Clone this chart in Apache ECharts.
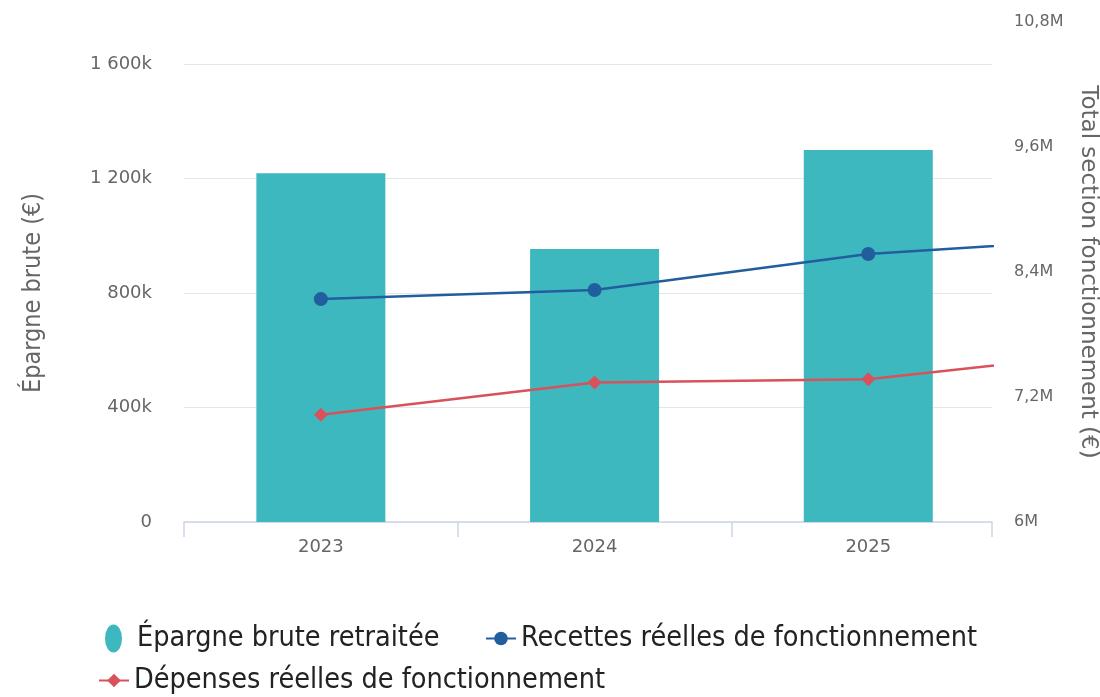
<!DOCTYPE html>
<html>
<head>
<meta charset="utf-8">
<script src="https://cdn.jsdelivr.net/npm/echarts@6/dist/echarts.min.js"></script>
<style>
    html, body { margin: 0; padding: 0; background: #fff; }
    #chart { width: 1100px; height: 697px; }
</style>
</head>
<body>
<div id="chart"></div>
<script>
// years shown on the x axis
const years = ['2023', '2024', '2025'];
// épargne brute retraitée (left axis, €)
const epargne = [1218000, 954000, 1300000];
// recettes / dépenses (right axis, €) - 4th point lies past the cut plot edge
const recettes = [8140000, 8227000, 8573000, 8740000];
const depenses = [7030000, 7340000, 7370000, 7660000];
const leftTicks = [0, 400000, 800000, 1200000, 1600000];
const rightTicks = [6000000, 7200000, 8400000, 9600000, 10800000];

const labelFont = 'DejaVu Sans';
const condFont = '"DejaVu Sans Condensed", "Liberation Sans Narrow", "DejaVu Sans"';

let myChart = echarts.init(document.getElementById('chart'));

// plot is cut on the right: 3rd category ends slightly outside the axis
const xMax = 2.452;

let legendText = { color: '#222', fontFamily: condFont, fontSize: 28.5 };

let opt = {
    backgroundColor: '#fff',
    animation: false,
    grid: {
        left: 184,
        right: 108,
        top: 22,
        bottom: 175,
        outerBoundsMode: 'none'
    },
    xAxis: {
        type: 'value',
        min: -0.5,
        max: xMax,
        axisLine: { lineStyle: { color: '#ccd6eb', width: 1.5 } },
        axisTick: {
            show: true,
            length: 15,
            lineStyle: { color: '#ccd6eb', width: 1.5 },
            customValues: [-0.5, 0.5, 1.5, xMax]
        },
        axisLabel: {
            customValues: years.map((y, i) => i),
            formatter: (v) => years[Math.round(v)] || '',
            color: '#666',
            fontFamily: labelFont,
            fontSize: 18,
            margin: 16
        },
        splitLine: { show: false }
    },
    yAxis: [
        {
            type: 'value',
            min: leftTicks[0],
            max: 1746725, // so that 1 600k sits at the top gridline
            interval: 400000,
            name: 'Épargne brute (€)',
            nameLocation: 'middle',
            nameRotate: 90,
            nameGap: 138,
            nameTextStyle: {
                color: '#666',
                fontFamily: condFont,
                fontSize: 25,
                padding: [0, 42, 0, 0]
            },
            axisLine: { show: false },
            axisTick: { show: false },
            axisLabel: {
                showMaxLabel: false,
                color: '#666',
                fontFamily: labelFont,
                fontSize: 18,
                margin: 32,
                formatter: (v) => {
                    if (v === 0) return '0';
                    let k = Math.round(v / 1000);
                    return String(k).replace(/\B(?=(\d{3})+(?!\d))/g, ' ') + 'k';
                }
            },
            splitLine: {
                showMaxLine: false,
                lineStyle: { color: '#e6e6e6', width: 1 }
            }
        },
        {
            type: 'value',
            min: rightTicks[0],
            max: rightTicks[rightTicks.length - 1],
            interval: 1200000,
            position: 'right',
            name: 'Total section fonctionnement (€)',
            nameLocation: 'middle',
            nameRotate: -90,
            nameGap: 84,
            nameTextStyle: { color: '#666', fontFamily: labelFont, fontSize: 23 },
            axisLine: { show: false },
            axisTick: { show: false },
            axisLabel: {
                color: '#666',
                fontFamily: labelFont,
                fontSize: 16,
                margin: 22,
                formatter: (v) => String(Math.round(v / 100000) / 10).replace('.', ',') + 'M'
            },
            splitLine: { show: false }
        }
    ],
    legend: [
        {
            data: [{
                name: 'Épargne brute retraitée',
                icon: 'path://M27,14 M0,14 A8.5,14 0 1,1 17,14 A8.5,14 0 1,1 0,14 Z'
            }],
            left: 100,
            top: 619,
            itemWidth: 27,
            itemHeight: 28,
            selectedMode: false,
            textStyle: legendText
        },
        {
            data: ['Recettes réelles de fonctionnement'],
            left: 480,
            top: 619,
            itemWidth: 30,
            itemHeight: 17,
            selectedMode: false,
            textStyle: legendText
        },
        {
            data: ['Dépenses réelles de fonctionnement'],
            left: 93,
            top: 661,
            itemWidth: 30,
            itemHeight: 17,
            selectedMode: false,
            textStyle: legendText
        }
    ],
    series: [
        {
            name: 'Épargne brute retraitée',
            type: 'bar',
            yAxisIndex: 0,
            barWidth: 129,
            itemStyle: { color: '#3eb8bf' },
            data: epargne.map((v, i) => [i, v])
        },
        {
            name: 'Recettes réelles de fonctionnement',
            type: 'line',
            yAxisIndex: 1,
            symbol: 'circle',
            symbolSize: 14,
            clip: true,
            lineStyle: { color: '#215e9e', width: 2.5 },
            itemStyle: { color: '#215e9e' },
            data: recettes.map((v, i) => [i, v])
        },
        {
            name: 'Dépenses réelles de fonctionnement',
            type: 'line',
            yAxisIndex: 1,
            symbol: 'diamond',
            symbolSize: 14,
            clip: true,
            lineStyle: { color: '#d9515b', width: 2.5 },
            itemStyle: { color: '#d9515b' },
            data: depenses.map((v, i) => [i, v])
        }
    ]
};

myChart.setOption(opt);
</script>
</body>
</html>
